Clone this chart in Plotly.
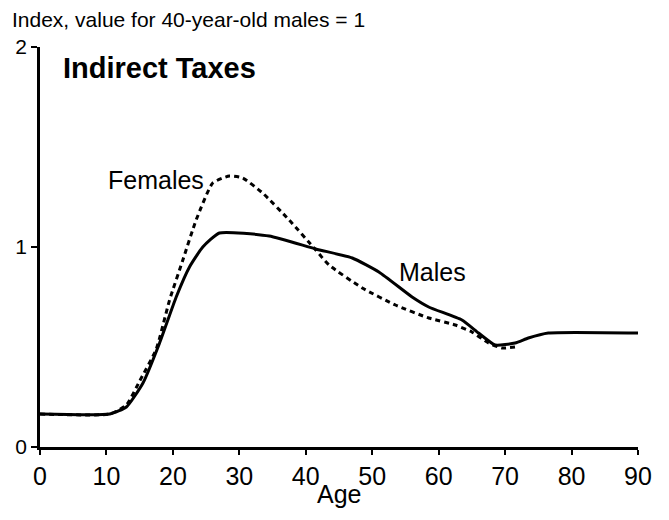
import plotly.graph_objects as go

male_age = [0, 10.5, 13, 15.5, 18, 20.5, 22.5, 24.5, 27, 34.5, 41.5, 47, 51, 56, 58.5, 63.5, 66, 68.5, 71.5, 73.5, 76.5, 90]
male_val = [0.165, 0.165, 0.2, 0.32, 0.52, 0.75, 0.9, 1.0, 1.07, 1.055, 0.99, 0.945, 0.875, 0.75, 0.70, 0.635, 0.57, 0.51, 0.52, 0.545, 0.57, 0.57]

female_age = [0, 10.5, 13, 15, 17.5, 19.5, 21.5, 23.5, 26, 28.5, 30.5, 33.5, 37.5, 41.5, 43.5, 48.5, 53.5, 58.5, 62.5, 65, 67.5, 69.5, 71.5]
female_val = [0.165, 0.165, 0.21, 0.33, 0.49, 0.735, 0.935, 1.135, 1.32, 1.355, 1.345, 1.27, 1.135, 0.985, 0.91, 0.795, 0.71, 0.645, 0.61, 0.575, 0.52, 0.495, 0.50]

x_ticks = [0, 10, 20, 30, 40, 50, 60, 70, 80, 90]
y_ticks = [0, 1, 2]

font = "Liberation Sans, Arial, sans-serif"

fig = go.Figure()
fig.add_trace(go.Scatter(x=female_age, y=female_val, mode="lines",
                         line=dict(color="black", width=3, dash="5px,4px", shape="spline", smoothing=0.5)))
fig.add_trace(go.Scatter(x=male_age, y=male_val, mode="lines",
                         line=dict(color="black", width=3, shape="spline", smoothing=0.5)))

fig.add_annotation(x=0, y=1.0, xref="paper", yref="paper", xanchor="left", yanchor="bottom",
                   text="Index, value for 40-year-old males = 1", showarrow=False,
                   font=dict(size=21, color="black"), xshift=-30, yshift=14)
fig.add_annotation(x=3.2, y=1.895, text="<b>Indirect Taxes</b>", xanchor="left", yanchor="middle",
                   showarrow=False, font=dict(size=29, color="black"))
fig.add_annotation(x=25, y=1.335, text="Females", xanchor="right", yanchor="middle",
                   showarrow=False, font=dict(size=25, color="black"))
fig.add_annotation(x=53.8, y=0.875, text="Males", xanchor="left", yanchor="middle",
                   showarrow=False, font=dict(size=25, color="black"))
# axis title as annotation so it sits close under the tick labels
fig.add_annotation(x=0.5, y=0, xref="paper", yref="paper", xanchor="center", yanchor="middle",
                   text="Age", showarrow=False, font=dict(size=25, color="black"), yshift=-47)

# page body has an 8px margin, so the figure is a bit smaller than the window
fig.update_layout(
    width=661, height=512,
    margin=dict(l=32, r=31, t=39, b=73),
    paper_bgcolor="white", plot_bgcolor="white",
    showlegend=False,
    font=dict(family=font, color="black", size=21),
)
fig.update_xaxes(range=[0, 90], tickvals=x_ticks, showgrid=False, zeroline=False, automargin=False,
                 showline=True, linecolor="black", linewidth=2.5, ticks="outside",
                 ticklen=5, tickwidth=2, tickcolor="black",
                 tickfont=dict(size=25))
fig.update_yaxes(range=[0, 2], tickvals=y_ticks, showgrid=False, zeroline=False, automargin=False,
                 showline=True, linecolor="black", linewidth=2.5, ticks="outside",
                 ticklen=6, tickwidth=2, tickcolor="black", tickfont=dict(size=21))

fig.write_html("out.html")
